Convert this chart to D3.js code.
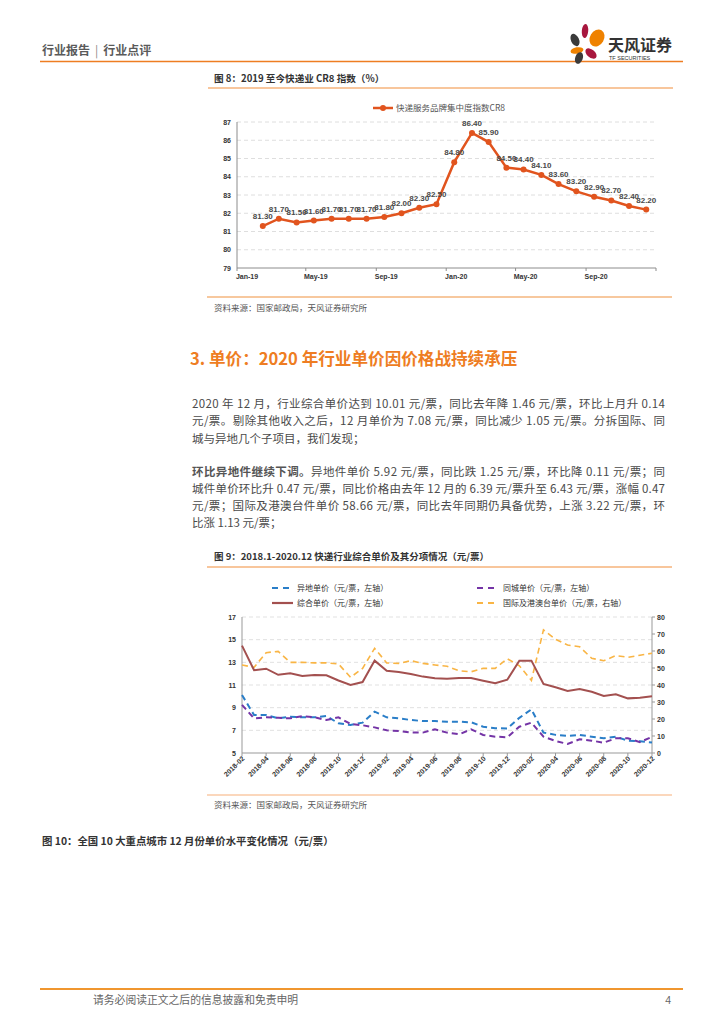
<!DOCTYPE html>
<html><head><meta charset="utf-8">
<script src="https://cdn.jsdelivr.net/npm/d3@7"></script>
<style>
body{margin:0;background:#fff}
svg{display:block}
text{font-family:"Noto Sans CJK SC","Liberation Sans",sans-serif}
.num{font-family:"Liberation Sans",Arial,sans-serif}
</style>
</head><body>
<svg id="page" width="724" height="1024"></svg>
<script>
// ---------- Chart 1 data (CR8) ----------
const cr8Months = ["2019-02","2019-03","2019-04","2019-05","2019-06","2019-07","2019-08","2019-09","2019-10","2019-11","2019-12",
  "2020-01","2020-02","2020-03","2020-04","2020-05","2020-06","2020-07","2020-08","2020-09","2020-10","2020-11","2020-12"];
const cr8Values = [81.3,81.7,81.5,81.6,81.7,81.7,81.7,81.8,82.0,82.3,82.5,84.8,86.4,85.9,84.5,84.4,84.1,83.6,83.2,82.9,82.7,82.4,82.2];
const cr8TickLabels = ["Jan-19","May-19","Sep-19","Jan-20","May-20","Sep-20"];
const cr8YTicks = [79,80,81,82,83,84,85,86,87];
const cr8SeriesName = "快递服务品牌集中度指数CR8";

// ---------- Chart 2 data (unit prices) ----------
const priceMonths = ["2018-02","2018-03","2018-04","2018-05","2018-06","2018-07","2018-08","2018-09","2018-10","2018-11","2018-12",
  "2019-01","2019-02","2019-03","2019-04","2019-05","2019-06","2019-07","2019-08","2019-09","2019-10","2019-11","2019-12",
  "2020-01","2020-02","2020-03","2020-04","2020-05","2020-06","2020-07","2020-08","2020-09","2020-10","2020-11","2020-12"];
const yidiPrice = [10.12,8.35,8.35,8.06,8.2,8.15,8.15,8.26,7.62,7.47,7.68,8.65,8.15,8.06,7.91,7.82,7.82,7.76,7.76,7.71,7.32,7.18,7.17,8.1,8.85,6.8,6.6,6.5,6.6,6.44,6.3,6.44,6.09,6.03,5.92];
const tongchengPrice = [9.24,8.06,8.15,8.1,8.06,8.26,8.15,7.91,8.15,7.56,7.45,7.26,7.0,6.94,6.82,6.8,7.09,6.8,6.65,7.09,6.59,6.44,6.39,7.32,7.68,6.44,6.06,5.8,6.21,6.09,5.91,6.3,6.3,5.96,6.43];
const zonghePrice = [14.47,12.3,12.44,11.9,12.03,11.8,11.88,11.85,11.4,11.0,11.26,13.15,12.25,12.15,11.97,11.74,11.59,11.56,11.62,11.62,11.38,11.15,11.47,13.15,13.15,11.09,10.8,10.47,10.65,10.41,10.03,10.18,9.82,9.87,10.01];
const guojiPrice = [51.8,50.4,59,59.8,53.3,53.3,53,53,52.4,44.5,49.8,61.6,53,52.7,54.3,52.7,51.8,51,48.4,47.8,49.8,49.8,55.44,51.3,42.7,72.4,66.9,63.5,62.5,55.7,54.3,57.3,56.3,57.53,58.66];
const leftTicks = [5,7,9,11,13,15,17];
const rightTicks = [0,10,20,30,40,50,60,70,80];
const priceSeriesNames = ["异地单价（元/票，左轴）","同城单价（元/票，左轴）","综合单价（元/票，左轴）","国际及港澳台单价（元/票，右轴）"];

const svg = d3.select("#page");
const ORANGE = "#EE7D22";

// ---------- Header ----------
const hdr = svg.append("g");
const ht = hdr.append("text").attr("x",42).attr("y",55).attr("font-size",12).attr("font-weight","bold").attr("fill","#5a5a5a");
ht.append("tspan").text("行业报告");
ht.append("tspan").attr("dx",5).attr("font-weight","normal").attr("fill","#888").text("|");
ht.append("tspan").attr("dx",5).text("行业点评");
hdr.append("line").attr("x1",40).attr("x2",683).attr("y1",61.5).attr("y2",61.5).attr("stroke",ORANGE).attr("stroke-width",1.6);
// logo petals
const petals = [
  {cx:575,cy:40,rx:4,ry:6.5,r:-25,c:"#3b3b3b"},
  {cx:585,cy:31,rx:3.2,ry:7,r:5,c:"#A8173E"},
  {cx:597,cy:38,rx:7,ry:9,r:30,c:"#EF8200"},
  {cx:577,cy:50.5,rx:6.5,ry:3.2,r:-10,c:"#EF8200"},
  {cx:591,cy:53.5,rx:6.5,ry:4,r:40,c:"#A8173E"},
  {cx:579,cy:58,rx:3.8,ry:6,r:20,c:"#3b3b3b"}
];
hdr.selectAll("ellipse").data(petals).join("ellipse")
  .attr("cx",d=>d.cx).attr("cy",d=>d.cy).attr("rx",d=>d.rx).attr("ry",d=>d.ry)
  .attr("transform",d=>`rotate(${d.r},${d.cx},${d.cy})`).attr("fill",d=>d.c);
hdr.append("text").attr("x",608).attr("y",51).attr("font-size",16).attr("font-weight","bold").attr("fill","#333").text("天风证券");
hdr.append("text").attr("class","num").attr("x",609).attr("y",59.5).attr("font-size",5.5).attr("fill","#333").text("TF SECURITIES");

// ---------- Chart 1 ----------
const c1 = svg.append("g");
c1.append("text").attr("x",214).attr("y",82).attr("font-size",9.6).attr("font-weight","bold").attr("fill","#333")
  .text("图 8：2019 至今快递业 CR8 指数（%）");
c1.append("line").attr("x1",208).attr("x2",673).attr("y1",88).attr("y2",88).attr("stroke","#F8C69C").attr("stroke-width",2);

const parseM = d3.timeParse("%Y-%m");
const x1 = d3.scaleTime().domain([new Date(2019,0,1), new Date(2021,0,1)]).range([237,656]);
const y1 = d3.scaleLinear().domain([79,87]).range([268,122]);
const mid = s => { const d = parseM(s); return new Date(d.getFullYear(), d.getMonth(), 15); };

c1.selectAll("line.g1").data(cr8YTicks.slice(1)).join("line").attr("class","g1")
  .attr("x1",237).attr("x2",656).attr("y1",d=>y1(d)).attr("y2",d=>y1(d))
  .attr("stroke","#d6d6d6").attr("stroke-dasharray","4,3").attr("stroke-width",0.8);
c1.selectAll("text.yl1").data(cr8YTicks).join("text").attr("class","yl1 num")
  .attr("x",231).attr("y",d=>y1(d)+2.5).attr("text-anchor","end").attr("font-size",7).attr("font-weight","bold").attr("fill","#333").text(d=>d);
c1.append("line").attr("x1",237).attr("x2",237).attr("y1",122).attr("y2",268).attr("stroke","#8c8c8c");
c1.append("line").attr("x1",237).attr("x2",656).attr("y1",268).attr("y2",268).attr("stroke","#8c8c8c");
const t1 = d3.range(0,7).map(i=>new Date(2019, i*4, 1));
c1.selectAll("line.tk1").data(t1).join("line").attr("class","tk1")
  .attr("x1",d=>x1(d)).attr("x2",d=>x1(d)).attr("y1",268).attr("y2",271).attr("stroke","#8c8c8c");
c1.selectAll("text.xl1").data(cr8TickLabels).join("text").attr("class","xl1 num")
  .attr("x",(d,i)=>x1(t1[i])+10).attr("y",279).attr("text-anchor","middle").attr("font-size",7).attr("font-weight","bold").attr("fill","#333").text(d=>d);

const LINE1 = "#E1541E";
const pts1 = cr8Months.map((m,i)=>({x:x1(mid(m)), y:y1(cr8Values[i]), v:cr8Values[i]}));
c1.append("path").attr("d",d3.line().x(d=>d.x).y(d=>d.y)(pts1)).attr("fill","none").attr("stroke",LINE1).attr("stroke-width",2.5);
c1.selectAll("circle").data(pts1).join("circle").attr("cx",d=>d.x).attr("cy",d=>d.y).attr("r",3).attr("fill",LINE1);
c1.selectAll("text.dl").data(pts1).join("text").attr("class","dl num")
  .attr("x",d=>d.x).attr("y",d=>d.y-7).attr("text-anchor","middle").attr("font-size",8).attr("font-weight","bold").attr("fill","#4a4a4a").text(d=>d.v.toFixed(2));
// legend
c1.append("line").attr("x1",373).attr("x2",393).attr("y1",108).attr("y2",108).attr("stroke",LINE1).attr("stroke-width",2.5);
c1.append("circle").attr("cx",383).attr("cy",108).attr("r",3).attr("fill",LINE1);
c1.append("text").attr("x",396).attr("y",111).attr("font-size",8.5).attr("fill","#555").text(cr8SeriesName);

c1.append("line").attr("x1",207).attr("x2",672).attr("y1",297).attr("y2",297).attr("stroke","#F0913F").attr("stroke-width",1.2);
c1.append("text").attr("x",214).attr("y",311).attr("font-size",8.5).attr("fill","#555").text("资料来源：国家邮政局，天风证券研究所");

// ---------- Section text ----------
const tx = svg.append("g");
tx.append("text").attr("x",190).attr("y",365).attr("font-size",16.6).attr("font-weight","bold").attr("fill",ORANGE)
  .text("3. 单价：2020 年行业单价因价格战持续承压");
const para1 = [
  {t:"2020 年 12 月，行业综合单价达到 10.01 元/票，同比去年降 1.46 元/票，环比上月升 0.14", j:true},
  {t:"元/票。剔除其他收入之后，12 月单价为 7.08 元/票，同比减少 1.05 元/票。分拆国际、同", j:true},
  {t:"城与异地几个子项目，我们发现；", j:false}
];
const para2 = [
  {b:"环比异地件继续下调。", t:"异地件单价 5.92 元/票，同比跌 1.25 元/票，环比降 0.11 元/票；同", j:true},
  {b:"", t:"城件单价环比升 0.47 元/票，同比价格由去年 12 月的 6.39 元/票升至 6.43 元/票，涨幅 0.47", j:true},
  {b:"", t:"元/票；国际及港澳台件单价 58.66 元/票，同比去年同期仍具备优势，上涨 3.22 元/票，环", j:true},
  {b:"", t:"比涨 1.13 元/票；", j:false}
];
const TXT = "#4a4a4a";
para1.forEach((l,i)=>{
  const t = tx.append("text").attr("x",192).attr("y",407.5+i*17.7).attr("font-size",11.5).attr("fill",TXT).text(l.t);
  if(l.j) t.attr("textLength",473).attr("lengthAdjust","spacing");
});
para2.forEach((l,i)=>{
  const t = tx.append("text").attr("x",192).attr("y",476+i*17.1).attr("font-size",11.5).attr("fill",TXT);
  if(l.b) t.append("tspan").attr("font-weight","bold").attr("fill","#555").text(l.b);
  t.append("tspan").text(l.t);
  if(l.j) t.attr("textLength",473).attr("lengthAdjust","spacing");
});

// ---------- Chart 2 ----------
const c2 = svg.append("g");
c2.append("text").attr("x",214).attr("y",560).attr("font-size",9.5).attr("font-weight","bold").attr("fill","#333")
  .text("图 9：2018.1-2020.12 快递行业综合单价及其分项情况（元/票）");
c2.append("line").attr("x1",207).attr("x2",672).attr("y1",567).attr("y2",567).attr("stroke","#F8C69C").attr("stroke-width",2);

const x2 = d3.scalePoint().domain(priceMonths).range([242,652]);
const yL = d3.scaleLinear().domain([5,17]).range([753,617]);
const yR = d3.scaleLinear().domain([0,80]).range([753,617]);

c2.selectAll("line.g2").data(leftTicks.slice(1)).join("line").attr("class","g2")
  .attr("x1",242).attr("x2",652).attr("y1",d=>yL(d)).attr("y2",d=>yL(d))
  .attr("stroke","#d9d9d9").attr("stroke-dasharray","4,3").attr("stroke-width",0.8);
c2.append("line").attr("x1",242).attr("x2",242).attr("y1",617).attr("y2",753).attr("stroke","#999");
c2.append("line").attr("x1",652).attr("x2",652).attr("y1",617).attr("y2",753).attr("stroke","#999");
c2.append("line").attr("x1",242).attr("x2",652).attr("y1",753).attr("y2",753).attr("stroke","#999");
c2.selectAll("line.rt").data(rightTicks).join("line").attr("class","rt")
  .attr("x1",652).attr("x2",655).attr("y1",d=>yR(d)).attr("y2",d=>yR(d)).attr("stroke","#999");
c2.selectAll("text.yl2").data(leftTicks).join("text").attr("class","yl2 num")
  .attr("x",236).attr("y",d=>yL(d)+2.5).attr("text-anchor","end").attr("font-size",7).attr("font-weight","bold").attr("fill","#333").text(d=>d);
c2.selectAll("text.yr2").data(rightTicks).join("text").attr("class","yr2 num")
  .attr("x",657).attr("y",d=>yR(d)+2.5).attr("text-anchor","start").attr("font-size",7).attr("font-weight","bold").attr("fill","#333").text(d=>d);
const xTickMonths = priceMonths.filter((m,i)=>i%2===0);
c2.selectAll("line.xt2").data(xTickMonths).join("line").attr("class","xt2")
  .attr("x1",d=>x2(d)).attr("x2",d=>x2(d)).attr("y1",753).attr("y2",756).attr("stroke","#999");
c2.selectAll("text.xl2").data(xTickMonths).join("text").attr("class","xl2 num")
  .attr("transform",d=>`translate(${x2(d)+3},${759}) rotate(-45)`).attr("text-anchor","end")
  .attr("font-size",7).attr("font-weight","bold").attr("fill","#333").text(d=>d);

const series2 = [
  {v:yidiPrice, y:yL, c:"#2A7EC8", w:2, dash:"6,4"},
  {v:tongchengPrice, y:yL, c:"#7434A6", w:2, dash:"6,4"},
  {v:zonghePrice, y:yL, c:"#A3504F", w:2, dash:null},
  {v:guojiPrice, y:yR, c:"#F9B545", w:1.6, dash:"6,4"}
];
const drawOrder = [3,2,0,1];
drawOrder.forEach(k=>{
  const s = series2[k];
  const p = c2.append("path").attr("fill","none").attr("stroke",s.c).attr("stroke-width",s.w)
    .attr("d", d3.line().x((d,i)=>x2(priceMonths[i])).y(d=>s.y(d))(s.v));
  if(s.dash) p.attr("stroke-dasharray",s.dash);
});
// legend
const legPos = [{x:272,y:588},{x:477,y:588},{x:272,y:603},{x:477,y:603}];
series2.forEach((s,k)=>{
  const L = legPos[k];
  const ln = c2.append("line").attr("x1",L.x).attr("x2",L.x+(s.dash?18:21)).attr("y1",L.y).attr("y2",L.y)
    .attr("stroke",s.c).attr("stroke-width",s.dash?2:2.2);
  if(s.dash) ln.attr("stroke-dasharray","6,5");
  c2.append("text").attr("x",L.x+25+(k%2?1:0)).attr("y",L.y+3).attr("font-size",8).attr("fill","#333").text(priceSeriesNames[k]);
});

c2.append("line").attr("x1",207).attr("x2",672).attr("y1",795).attr("y2",795).attr("stroke","#F7B07A").attr("stroke-width",1.2);
c2.append("text").attr("x",214).attr("y",808).attr("font-size",8.5).attr("fill","#555").text("资料来源：国家邮政局，天风证券研究所");

// ---------- Figure 10 title ----------
svg.append("text").attr("x",42).attr("y",845).attr("font-size",10.4).attr("font-weight","bold").attr("fill","#333")
  .text("图 10：全国 10 大重点城市 12 月份单价水平变化情况（元/票）");

// ---------- Footer ----------
svg.append("line").attr("x1",40).attr("x2",683).attr("y1",989).attr("y2",989).attr("stroke","#F0962F").attr("stroke-width",2);
svg.append("text").attr("x",93).attr("y",1004).attr("font-size",10.8).attr("fill","#666").text("请务必阅读正文之后的信息披露和免责申明");
svg.append("text").attr("class","num").attr("x",671).attr("y",1004).attr("text-anchor","end").attr("font-size",10.5).attr("fill","#666").text("4");
</script>
</body></html>
